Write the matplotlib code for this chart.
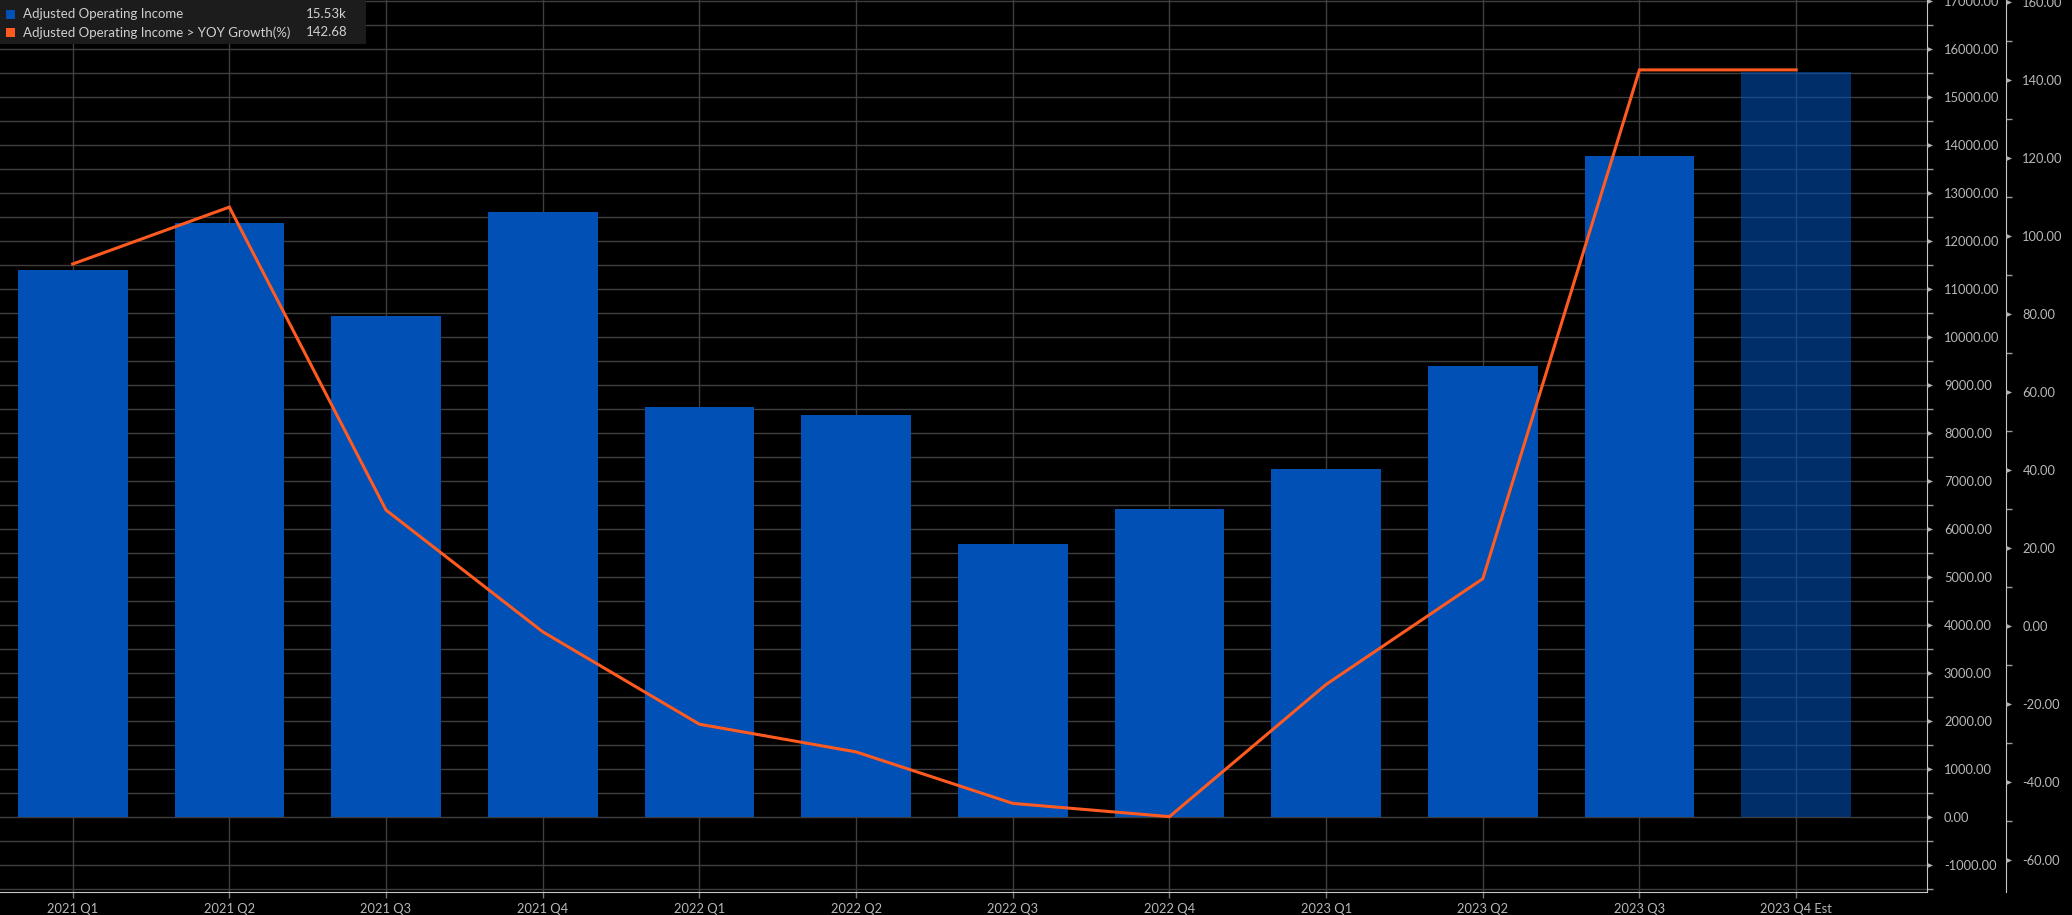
import matplotlib
matplotlib.use("Agg")
import matplotlib.pyplot as plt
import numpy as np
from matplotlib.path import Path
from matplotlib.patches import Rectangle
from matplotlib.transforms import ScaledTranslation
from matplotlib.ticker import MultipleLocator, FixedLocator

plt.rcParams['font.family'] = ['Lato', 'DejaVu Sans']

categories = ["2021 Q1", "2021 Q2", "2021 Q3", "2021 Q4",
              "2022 Q1", "2022 Q2", "2022 Q3", "2022 Q4",
              "2023 Q1", "2023 Q2", "2023 Q3", "2023 Q4 Est"]
operating_income = [11410, 12380, 10450, 12620,
                    8550, 8380, 5690, 6430,
                    7250, 9400, 13780, 15530]
yoy_growth = [92.9, 107.5, 29.8, -1.4,
              -25.1, -32.2, -45.4, -48.8,
              -14.9, 12.2, 142.68, 142.68]
is_estimate = [False] * 11 + [True]

left_ticks = list(range(-1000, 17001, 1000))
right_ticks = list(range(-60, 161, 20))

BLUE = "#0050b6"
ORANGE = "#ff5a1f"
GRID = "#3e3e3e"
TXT = "#b8b8b8"
SPINE = "#c8c8c8"
FS = 9.3

W, H = 2072, 915
fig = plt.figure(figsize=(W / 100, H / 100), dpi=100, facecolor="black")
ax = fig.add_axes([0, (H - 892.3) / H, 1927.3 / W, 892.3 / H], facecolor="black")
ax2 = ax.twinx()

x = np.arange(len(categories))
for xi, v, est in zip(x, operating_income, is_estimate):
    ax.bar(xi, v, width=0.70, color=BLUE, alpha=0.58 if est else 1.0,
           linewidth=0, zorder=2)

ax.set_xlim(-0.464, 11.837)
ax.set_ylim(-1562, 17027)
ax.set_axisbelow(True)

ax.yaxis.tick_right()
ax.yaxis.set_major_locator(FixedLocator(left_ticks))
ax.yaxis.set_minor_locator(MultipleLocator(500))
ax.set_yticklabels([f"{t:.2f}" for t in left_ticks])
ax.tick_params(axis='y', which='major', left=False, right=True, labelleft=False,
               labelright=True, length=0, pad=12, labelsize=FS, labelcolor=TXT)
ax.tick_params(axis='y', which='minor', left=False, right=True, length=4,
               width=1, color="#9a9a9a", direction='out')
ax.set_xticks(x)
ax.set_xticklabels(categories)
ax.tick_params(axis='x', length=4, width=1, color="#777777", pad=4,
               labelsize=FS, labelcolor=TXT)
ax.grid(True, which='both', axis='y', color=GRID, linewidth=1)
ax.grid(True, which='major', axis='x', color=GRID, linewidth=1)

for s in ["left", "top"]:
    ax.spines[s].set_visible(False)
ax.spines["right"].set_color(SPINE)
ax.spines["bottom"].set_color(SPINE)

# triangle tick markers
tri = Path([(0, -0.45), (0, 0.45), (1, 0), (0, -0.45)],
           [Path.MOVETO, Path.LINETO, Path.LINETO, Path.CLOSEPOLY])
ax.plot([1] * len(left_ticks), left_ticks, linestyle='none', marker=tri,
        markersize=8, color="#b0b0b0", markeredgewidth=0,
        transform=ax.get_yaxis_transform(), clip_on=False, zorder=5)

ax2.plot(x, yoy_growth, color=ORANGE, linewidth=2.2, zorder=6,
         solid_joinstyle='miter')
ax2.set_ylim(-68.2, 160.6)
OUT_PX = 78.4
ax2.spines["right"].set_position(("outward", OUT_PX * 72 / 100))
for s in ["left", "top", "bottom"]:
    ax2.spines[s].set_visible(False)
ax2.spines["right"].set_color(SPINE)
ax2.yaxis.set_major_locator(FixedLocator(right_ticks))
ax2.yaxis.set_minor_locator(MultipleLocator(10))
ax2.set_yticklabels([f"{t:.2f}" for t in right_ticks])
ax2.tick_params(axis='y', which='major', length=0, pad=12, labelsize=FS,
                labelcolor=TXT)
ax2.tick_params(axis='y', which='minor', length=4, width=1, color="#9a9a9a")
off = ScaledTranslation(OUT_PX / 100, 0, fig.dpi_scale_trans)
ax2.plot([1] * len(right_ticks), right_ticks, linestyle='none', marker=tri,
         markersize=8, color="#b0b0b0", markeredgewidth=0,
         transform=ax2.get_yaxis_transform() + off, clip_on=False, zorder=5)

# legend box
fig.patches.append(Rectangle((0, 1 - 44 / H), 366 / W, 44 / H,
                             transform=fig.transFigure, facecolor="#1c1c1c",
                             edgecolor="none", zorder=10))
rows = [
    ("Adjusted Operating Income", f"{operating_income[-1] / 1000:.2f}k", BLUE),
    ("Adjusted Operating Income > YOY Growth(%)", f"{yoy_growth[-1]:.2f}", ORANGE),
]
for i, (lab, val, col) in enumerate(rows):
    yc = 1 - (14 + i * 18.5) / H
    fig.patches.append(Rectangle((6 / W, yc - 4.5 / H), 9 / W, 9 / H,
                                 transform=fig.transFigure, facecolor=col,
                                 edgecolor="none", zorder=11))
    fig.text(23 / W, yc, lab, color="#d0d0d0", fontsize=9.5, va='center',
             ha='left', zorder=12)
    fig.text(347 / W, yc, val, color="#d0d0d0", fontsize=9.5, va='center',
             ha='right', zorder=12)

fig.savefig("out.png", dpi=100, facecolor="black")
